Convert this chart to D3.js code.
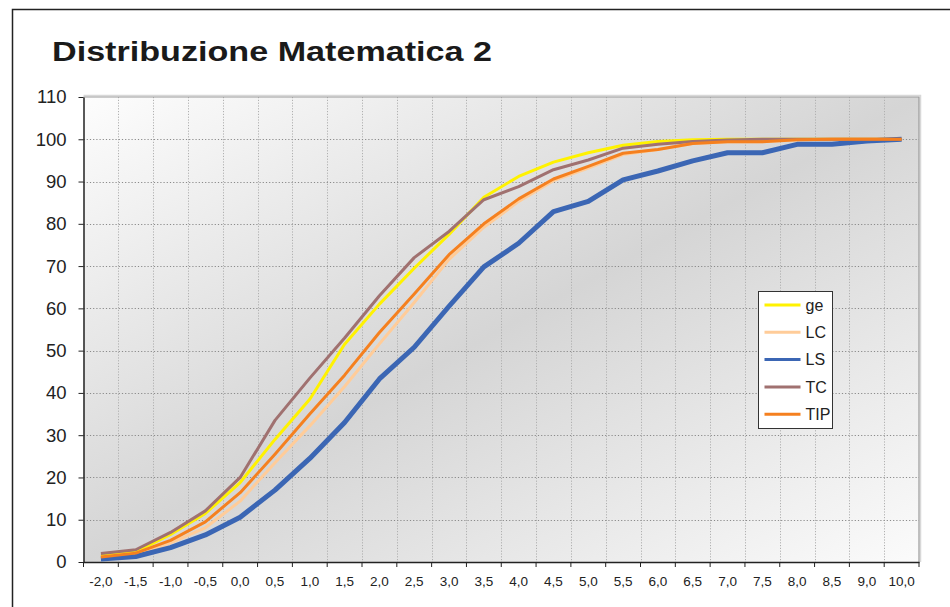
<!DOCTYPE html>
<html>
<head>
<meta charset="utf-8">
<script src="https://cdn.jsdelivr.net/npm/d3@7"></script>
<style>
    body { margin: 0; background: #fff; }
    svg { display: block; font-family: "Liberation Sans", Arial, sans-serif; }
    .grid-h line { stroke: #8a8a8a; stroke-dasharray: 1.2 2; }
    .grid-v line { stroke: #b0b0b0; stroke-dasharray: 1.2 1.6; }
    .axis path, .axis line { stroke: #222; }
    .axis text { fill: #222; }
</style>
</head>
<body>
<svg id="chart" width="950" height="607"></svg>
<script>
// x categories (note: no 9,5 in the source sheet)
var categories = ["-2,0", "-1,5", "-1,0", "-0,5", "0,0", "0,5", "1,0", "1,5", "2,0", "2,5",
    "3,0", "3,5", "4,0", "4,5", "5,0", "5,5", "6,0", "6,5", "7,0", "7,5", "8,0", "8,5", "9,0", "10,0"];

var yTicks = [0, 10, 20, 30, 40, 50, 60, 70, 80, 90, 100, 110];

// cumulative percentages per group
var ge  = [1.5, 2.4, 6.5, 11.5, 18.8, 29, 38.5, 51.5, 61, 69.5, 77.5, 86.3, 91.2, 94.6, 96.8, 98.6, 99.5, 99.9, 100, 100, 100, 100, 100, 100];
var LC  = [1, 1.7, 4.5, 8.1, 14.4, 23.5, 32.2, 41.5, 51.6, 61.4, 71.6, 79.2, 85.3, 90.2, 93.2, 96.4, 97.6, 99, 99.4, 99.4, 99.9, 100, 100, 100];
var LS  = [0.7, 1.3, 3.4, 6.4, 10.6, 17, 24.5, 33, 43.3, 50.8, 60.5, 69.8, 75.4, 82.9, 85.3, 90.4, 92.5, 94.9, 96.8, 96.8, 98.8, 98.8, 99.6, 100];
var TC  = [2, 2.9, 7, 12.1, 20, 33.5, 43.5, 53, 63, 72, 78.2, 85.7, 88.8, 92.8, 95.1, 97.9, 98.8, 99.5, 99.8, 100, 100, 100, 100, 100];
var TIP = [1.2, 2.1, 5.1, 9.5, 16.4, 25.5, 35, 44.2, 54.3, 63.4, 72.7, 80, 85.9, 90.6, 93.6, 96.7, 97.6, 99, 99.4, 99.4, 99.9, 100, 100, 100];

var seriesNames = ["ge", "LC", "LS", "TC", "TIP"];
var seriesValues = [ge, LC, LS, TC, TIP];

var colors = { ge: "#fff200", LC: "#ffcc99", LS: "#3b66b4", TC: "#a07170", TIP: "#f5801f" };
var widths = { ge: 3, LC: 3, LS: 5, TC: 3, TIP: 3 };

var plot = { left: 83.5, right: 919, top: 97, bottom: 562 };

var svg = d3.select("#chart");

// outer frame
svg.append("rect")
    .attr("x", 12.5).attr("y", 9.5)
    .attr("width", 1000).attr("height", 700)
    .attr("fill", "none").attr("stroke", "#222").attr("stroke-width", 1.5);

svg.append("text")
    .attr("x", 52).attr("y", 61)
    .attr("font-size", 28).attr("font-weight", "bold")
    .attr("textLength", 440).attr("lengthAdjust", "spacingAndGlyphs")
    .attr("fill", "#1a1a1a")
    .text("Distribuzione Matematica 2");

var x = d3.scaleBand().domain(categories).range([plot.left, plot.right]).padding(0);
var y = d3.scaleLinear().domain([0, 110]).range([plot.bottom, plot.top]);

// background gradient
var grad = svg.append("defs").append("linearGradient")
    .attr("id", "bg").attr("x1", 0).attr("y1", 0).attr("x2", 1).attr("y2", 1);
grad.append("stop").attr("offset", "0%").attr("stop-color", "#fdfdfd");
grad.append("stop").attr("offset", "50%").attr("stop-color", "#d5d5d5");
grad.append("stop").attr("offset", "100%").attr("stop-color", "#fbfbfb");

svg.append("rect")
    .attr("x", plot.left).attr("y", plot.top)
    .attr("width", plot.right - plot.left).attr("height", plot.bottom - plot.top)
    .attr("fill", "url(#bg)");

// gridlines
svg.append("g").attr("class", "grid-v")
    .selectAll("line").data(categories.slice(1))
    .join("line")
    .attr("x1", function(d) { return Math.round(x(d)) + 0.5; })
    .attr("x2", function(d) { return Math.round(x(d)) + 0.5; })
    .attr("y1", plot.top).attr("y2", plot.bottom);

svg.append("g").attr("class", "grid-h")
    .selectAll("line").data(yTicks.slice(1, -1))
    .join("line")
    .attr("x1", plot.left).attr("x2", plot.right)
    .attr("y1", function(d) { return Math.round(y(d)) + 0.5; })
    .attr("y2", function(d) { return Math.round(y(d)) + 0.5; });

// plot border (top / right)
svg.append("path")
    .attr("d", "M" + plot.left + "," + (plot.top - 1.5) + "H" + (plot.right + 1.5) + "V" + plot.bottom)
    .attr("fill", "none").attr("stroke", "#d8d8d8").attr("stroke-width", 1.5);
svg.append("path")
    .attr("d", "M" + plot.left + "," + plot.top + "H" + plot.right + "V" + plot.bottom)
    .attr("fill", "none").attr("stroke", "#9a9a9a").attr("stroke-width", 1.2);

// y axis
var yAxis = svg.append("g").attr("class", "axis")
    .attr("transform", "translate(" + plot.left + ",0)")
    .call(d3.axisLeft(y).tickValues(yTicks).tickSize(5).tickPadding(12).tickSizeOuter(0));
yAxis.selectAll("text").attr("font-size", 18.5).attr("font-family", "Liberation Sans, Arial, sans-serif");
yAxis.select(".domain").attr("stroke-width", 1.5);

// x axis: labels at category centres, ticks at boundaries
var xAxis = svg.append("g").attr("class", "axis")
    .attr("transform", "translate(0," + plot.bottom + ")")
    .call(d3.axisBottom(x).tickSize(0).tickPadding(14).tickSizeOuter(0));
xAxis.selectAll("text").attr("font-size", 13.5).attr("font-family", "Liberation Sans, Arial, sans-serif");
xAxis.select(".domain").attr("stroke-width", 1.5);
xAxis.selectAll(".bound").data(categories.concat(["end"]))
    .join("line").attr("class", "bound")
    .attr("x1", function(d) { return d === "end" ? plot.right : x(d); })
    .attr("x2", function(d) { return d === "end" ? plot.right : x(d); })
    .attr("y1", 0).attr("y2", 5)
    .attr("stroke", "#222");

// series lines
var line = d3.line()
    .x(function(d, i) { return x(categories[i]) + x.bandwidth() / 2; })
    .y(function(d) { return y(d); });

svg.append("g").selectAll("path").data(seriesNames)
    .join("path")
    .attr("d", function(name, i) { return line(seriesValues[i]); })
    .attr("fill", "none")
    .attr("stroke", function(name) { return colors[name]; })
    .attr("stroke-width", function(name) { return widths[name]; })
    .attr("stroke-linejoin", "round");

// legend
var legend = svg.append("g").attr("transform", "translate(758.5,291.5)");
legend.append("rect")
    .attr("width", 74).attr("height", 137)
    .attr("fill", "#fff").attr("stroke", "#333").attr("stroke-width", 1);
var items = legend.selectAll("g").data(seriesNames)
    .join("g")
    .attr("transform", function(d, i) { return "translate(0," + (13.5 + i * 27.3) + ")"; });
items.append("line")
    .attr("x1", 6).attr("x2", 42)
    .attr("stroke", function(d) { return colors[d]; })
    .attr("stroke-width", 3);
items.append("text")
    .attr("x", 47).attr("dy", "0.36em")
    .attr("font-size", 16).attr("fill", "#222")
    .text(function(d) { return d; });
</script>
</body>
</html>
